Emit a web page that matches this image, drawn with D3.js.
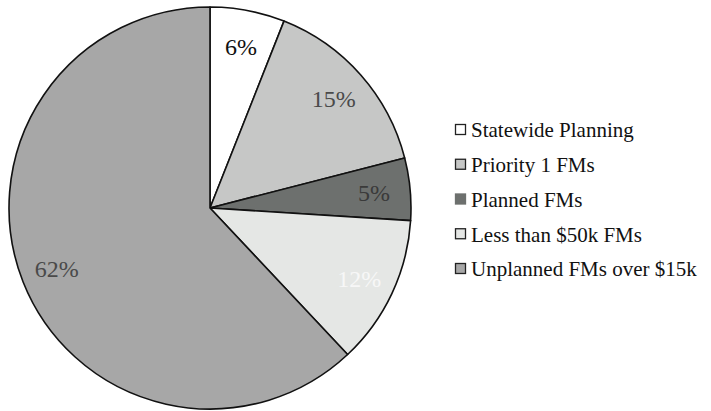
<!DOCTYPE html>
<html>
<head>
<script type="text/javascript" src="https://cdn.jsdelivr.net/npm/d3@7"></script>
<style>
  body { margin: 0; background: #fff; }
</style>
</head>
<body>
<script type="text/javascript">
  var w = 711;
  var h = 411;
  var serif = "'Liberation Serif', 'DejaVu Serif', serif";

  // data
  var categories = ["Statewide Planning", "Priority 1 FMs", "Planned FMs", "Less than $50k FMs", "Unplanned FMs over $15k"];
  var shares = [6, 15, 5, 12, 62];
  var fills = ["#ffffff", "#c6c7c6", "#6d706e", "#e5e7e5", "#a7a7a7"];
  var labelColors = ["#111111", "#4a4a4a", "#3a3a3a", "#f7f7f7", "#4a4a4a"];

  var cx = 210, cy = 208, r = 201;

  var svg = d3.select("body").append("svg")
    .attr("width", w)
    .attr("height", h);

  var pie = d3.pie().sort(null).value(function (d) { return d; });
  var arcs = pie(shares);

  var arc = d3.arc().innerRadius(0).outerRadius(r);
  var labelArc = d3.arc().innerRadius(r * 0.82).outerRadius(r * 0.82);

  var g = svg.append("g").attr("transform", "translate(" + cx + "," + cy + ")");

  g.selectAll("path")
    .data(arcs)
    .enter().append("path")
    .attr("d", arc)
    .attr("fill", function (d, i) { return fills[i]; })
    .attr("stroke", "#111")
    .attr("stroke-width", 1.6)
    .attr("stroke-linejoin", "round");

  g.selectAll("text.pct")
    .data(arcs)
    .enter().append("text")
    .attr("class", "pct")
    .attr("transform", function (d) { return "translate(" + labelArc.centroid(d) + ")"; })
    .attr("text-anchor", "middle")
    .attr("dy", "0.35em")
    .attr("font-family", serif)
    .attr("font-size", 24)
    .attr("fill", function (d, i) { return labelColors[i]; })
    .text(function (d) { return d.data + "%"; });

  // legend
  var legendY = d3.scalePoint()
    .domain(categories)
    .range([130, 269]);

  var legend = svg.append("g");
  var item = legend.selectAll("g")
    .data(categories)
    .enter().append("g")
    .attr("transform", function (d) { return "translate(455," + legendY(d) + ")"; });

  item.append("rect")
    .attr("x", 0.5)
    .attr("y", -5.5)
    .attr("width", 10)
    .attr("height", 10)
    .attr("fill", function (d, i) { return fills[i]; })
    .attr("stroke", function (d, i) { return i === 2 ? "#6d706e" : "#222"; })
    .attr("stroke-width", 1.3);

  item.append("text")
    .attr("x", 16)
    .attr("dy", "0.35em")
    .attr("font-family", serif)
    .attr("font-size", 21)
    .attr("fill", "#111")
    .text(function (d) { return d; });
</script>
</body>
</html>
